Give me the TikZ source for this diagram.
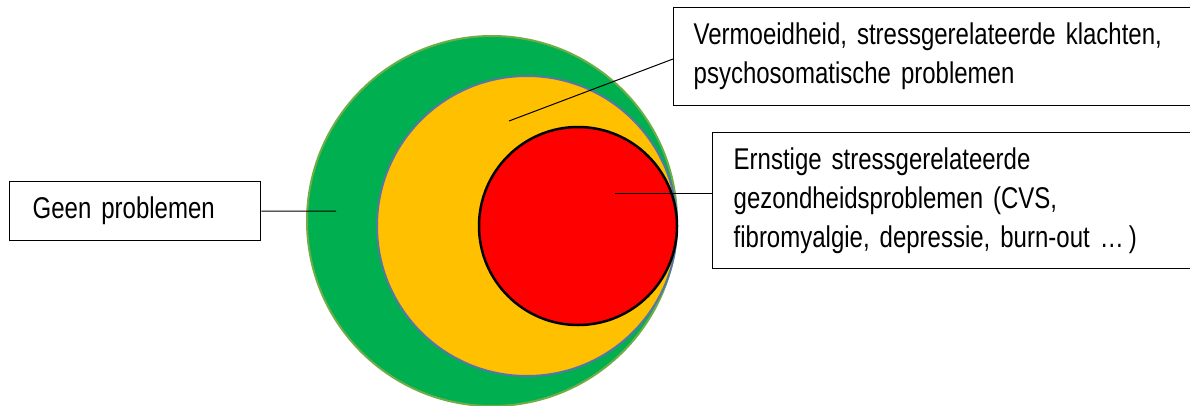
\documentclass[tikz,border=0pt]{standalone}
\usepackage{fontspec}
\setmainfont{Liberation Sans}[FakeStretch=0.80,WordSpace=0.8]
\usetikzlibrary{calc}

\definecolor{groen}{HTML}{00B050}
\definecolor{groenrand}{HTML}{70AD47}
\definecolor{geel}{HTML}{FFC000}
\definecolor{geelrand}{HTML}{5577A6}
\definecolor{rood}{HTML}{FF0000}

\begin{document}
\begin{tikzpicture}[x=1pt,y=-1pt,
  vak/.style={draw, line width=1.3pt, align=left, anchor=north west,
    font=\fontsize{30}{39}\selectfont, inner ysep=0pt}]
  \useasboundingbox (0,0) rectangle (1190,405);
  \clip (0,0) rectangle (1190,405);

  % Cirkels, rechts rakend
  \draw[line width=2pt, draw=groenrand, fill=groen] (492,221) circle[radius=185pt];
  \draw[line width=2pt, draw=geelrand, fill=geel] (527,226) circle[radius=150pt];
  \draw[line width=2.5pt, fill=rood] (578,226) circle[radius=99pt];

  \coordinate (pGroen) at (336,211);
  \coordinate (pGeel) at (509,121);
  \coordinate (pRood) at (615,193);

  % Tekstvakken
  \node[vak, minimum height=98pt, inner xsep=20pt, text width=500pt] (verm) at (673,7)
    {Vermoeidheid, stressgerelateerde klachten,\\psychosomatische problemen};
  \node[vak, minimum height=136pt, inner xsep=21pt, text width=460pt] (ernst) at (712,132)
    {Ernstige stressgerelateerde\\gezondheidsproblemen (CVS,\\fibromyalgie, depressie, burn-out \dots\,)};
  \node[vak, minimum height=59pt, inner xsep=23pt, text width=205pt] (geen) at (9,181)
    {Geen problemen};

  % Verbindingslijnen
  \draw[line width=1pt] (geen.east) -- (pGroen);
  \draw[line width=1pt] (verm.west |- 0,59) -- (pGeel);
  \draw[line width=1pt] (ernst.west |- pRood) -- (pRood);
\end{tikzpicture}
\end{document}
